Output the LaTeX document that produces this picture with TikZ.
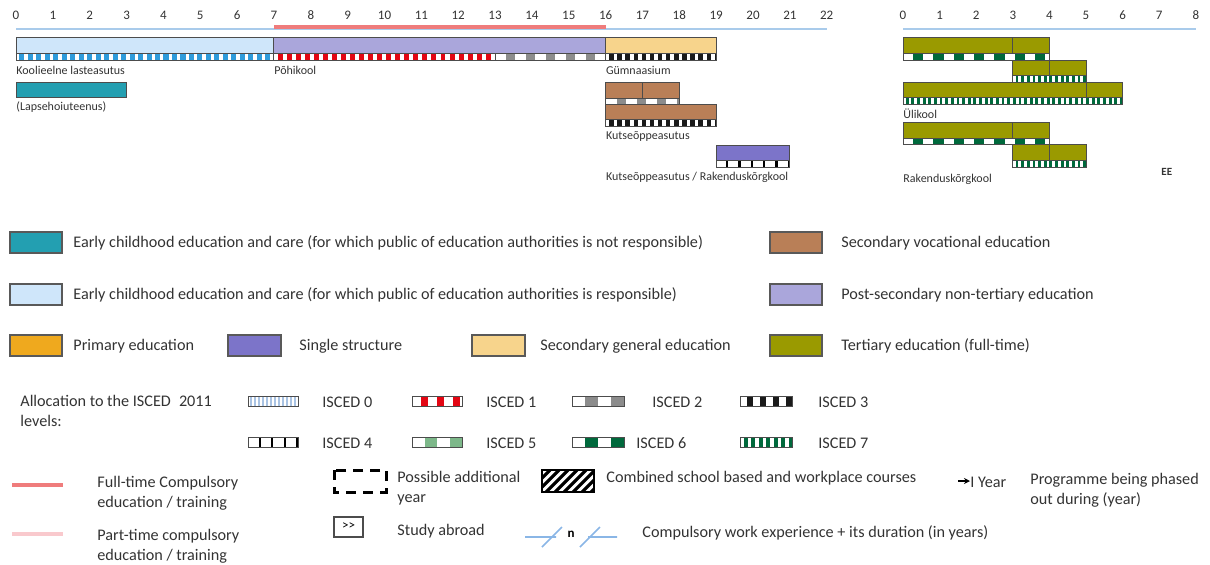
\documentclass[tikz,border=0pt]{standalone}
\usepackage{fontspec}
\setmainfont{Carlito}
\usetikzlibrary{arrows.meta}

\definecolor{ecteal}{HTML}{239FB1}
\definecolor{eclight}{HTML}{CFE6FA}
\definecolor{ecprimary}{HTML}{EFA91E}
\definecolor{ecsingle}{HTML}{7C74C9}
\definecolor{ecsecgen}{HTML}{F7D48C}
\definecolor{ecsecvoc}{HTML}{B97F57}
\definecolor{ecpostsec}{HTML}{AAA6DB}
\definecolor{ectertiary}{HTML}{9A9A00}
\definecolor{ecred}{HTML}{EF7C7C}
\definecolor{ecpink}{HTML}{F9C9CD}
\definecolor{ecaxis}{HTML}{A9CBEB}
\definecolor{ecwork}{HTML}{8AB6E6}
\definecolor{iscedzero}{HTML}{2E9BDB}
\definecolor{iscedzerokey}{HTML}{A9C3E3}
\definecolor{iscedone}{HTML}{E30613}
\definecolor{iscedtwo}{HTML}{8C8C8C}
\definecolor{iscedthree}{HTML}{1A1A1A}
\definecolor{iscedfive}{HTML}{7DB88A}
\definecolor{iscedsix}{HTML}{00693C}
\definecolor{ectext}{HTML}{333333}

\tikzset{
  barline/.style={draw=black!70, line width=0.5pt},
  stripline/.style={draw=black!70, line width=0.5pt},
  swatch/.style={draw=black!65, line width=0.7pt},
  axisnum/.style={font=\fontsize{6.5}{7}\selectfont, text=ectext},
  chartlabel/.style={font=\fontsize{6}{7}\selectfont, text=ectext, anchor=west, inner sep=0pt},
  legendtext/.style={font=\fontsize{8.1}{9}\selectfont, text=ectext, anchor=west, inner sep=0pt},
  keytext/.style={font=\fontsize{8.1}{10}\selectfont, text=ectext, anchor=west, align=left, inner sep=0pt},
}

% strip of ISCED blocks: [fraction] x1 x2 ytop ybottom colour period
\newcommand{\iscedbar}[7][0.5]{%
  \fill[white] (#2,#4) rectangle (#3,#5);
  \begin{scope}
    \clip (#2,#4) rectangle (#3,#5);
    \pgfmathtruncatemacro{\nblk}{(#3-#2)/#7}
    \foreach \k in {0,...,\nblk}
      \fill[#6] ({#2+(\k+1-#1)*#7},#4) rectangle ({#2+(\k+1)*#7},#5);
  \end{scope}
  \draw[stripline] (#2,#4) rectangle (#3,#5);
}

\begin{document}
\begin{tikzpicture}[x=0.5pt, y=-0.5pt]
  \useasboundingbox (0,0) rectangle (1210,564);

  % left chart, x in years
  \begin{scope}[shift={(16,0)}, x=18.425pt]
    \foreach \n in {0,...,22}
      \node[axisnum] (L\n) at (\n,15) {\n};
    \draw[ecaxis, line width=0.8pt] (0,29) -- (22,29);
    \draw[ecred, line width=1.6pt] (7,27) -- (16,27);

    \draw[barline, fill=eclight] (0,37) rectangle (7,53);
    \iscedbar[0.6]{0}{7}{53}{60}{iscedzero}{0.23}
    \node[chartlabel] (koolieelne) at (0,70) {Koolieelne lasteasutus};

    \draw[barline, fill=ecpostsec] (7,37) rectangle (16,53);
    \iscedbar[0.55]{7}{13}{53}{60}{iscedone}{0.245}
    \iscedbar[0.45]{13}{16}{53}{60}{iscedtwo}{0.545}
    \node[chartlabel] (pohikool) at (7,70) {Põhikool};

    \draw[barline, fill=ecsecgen] (16,37) rectangle (19,53);
    \iscedbar[0.55]{16}{19}{53}{60}{iscedthree}{0.22}
    \node[chartlabel] (gymn) at (16,70) {Gümnaasium};

    \draw[barline, fill=ecteal] (0,82) rectangle (3,97);
    \node[chartlabel] (lapsehoid) at (0,107) {(Lapsehoiuteenus)};

    \draw[barline, fill=ecsecvoc] (16,82) rectangle (18,98);
    \draw[barline] (17,82) -- (17,98);
    \iscedbar[0.45]{16}{18}{98}{104}{iscedtwo}{0.545}
    \draw[barline, fill=ecsecvoc] (16,104) rectangle (19,119);
    \iscedbar[0.55]{16}{19}{119}{126}{iscedthree}{0.22}
    \node[chartlabel] (kutse) at (16,136) {Kutseõppeasutus};

    \draw[barline, fill=ecsingle] (19,145) rectangle (21,160);
    \iscedbar[0.18]{19}{21}{160}{167}{black}{0.333}
    \node[chartlabel] (kutserak) at (16,177) {Kutseõppeasutus / Rakenduskõrgkool};
  \end{scope}

  % right chart, x in years
  \begin{scope}[shift={(903,0)}, x=18.3pt]
    \foreach \n in {0,...,8}
      \node[axisnum] (R\n) at (\n,15) {\n};
    \draw[ecaxis, line width=0.8pt] (0,29) -- (8,29);

    \draw[barline, fill=ectertiary] (0,37) rectangle (4,53);
    \draw[barline] (3,37) -- (3,53);
    \iscedbar{0}{4}{53}{60}{iscedsix}{0.555}
    \draw[barline, fill=ectertiary] (3,60) rectangle (5,75);
    \draw[barline] (4,60) -- (4,75);
    \iscedbar{3}{5}{75}{82}{iscedsix}{0.154}
    \draw[barline, fill=ectertiary] (0,82) rectangle (6,97);
    \draw[barline] (5,82) -- (5,97);
    \iscedbar{0}{6}{97}{104}{iscedsix}{0.154}
    \node[chartlabel] (ulikool) at (0,114) {Ülikool};

    \draw[barline, fill=ectertiary] (0,122) rectangle (4,138);
    \draw[barline] (3,122) -- (3,138);
    \iscedbar{0}{4}{138}{144}{iscedsix}{0.555}
    \draw[barline, fill=ectertiary] (3,144) rectangle (5,160);
    \draw[barline] (4,144) -- (4,160);
    \iscedbar{3}{5}{160}{167}{iscedsix}{0.154}
    \node[chartlabel] (rakendus) at (0,179) {Rakenduskõrgkool};
    \node[chartlabel, font=\fontsize{5.5}{6}\selectfont\bfseries] (ee) at (7.05,172) {EE};
  \end{scope}

  % colour key
  \draw[swatch, fill=ecteal] (10,232) rectangle (62,253);
  \node[legendtext] (kteal) at (73,243) {Early childhood education and care (for which public of education authorities is not responsible)};
  \draw[swatch, fill=eclight] (10,284) rectangle (62,305);
  \node[legendtext] (klight) at (73,295) {Early childhood education and care (for which public of education authorities is responsible)};
  \draw[swatch, fill=ecprimary] (10,335) rectangle (62,356);
  \node[legendtext] (kprim) at (73,346) {Primary education};
  \draw[swatch, fill=ecsingle] (228,335) rectangle (281,356);
  \node[legendtext] (ksingle) at (299,346) {Single structure};
  \draw[swatch, fill=ecsecgen] (472,335) rectangle (525,356);
  \node[legendtext] (ksecgen) at (540,346) {Secondary general education};
  \draw[swatch, fill=ecsecvoc] (770,232) rectangle (822,253);
  \node[legendtext] (ksecvoc) at (841,243) {Secondary vocational education};
  \draw[swatch, fill=ecpostsec] (770,284) rectangle (822,305);
  \node[legendtext] (kpostsec) at (841,295) {Post-secondary non-tertiary education};
  \draw[swatch, fill=ectertiary] (770,335) rectangle (822,356);
  \node[legendtext] (ktert) at (841,346) {Tertiary education (full-time)};

  % ISCED key
  \node[keytext] (alloc) at (20,411) {Allocation to the ISCED\enspace 2011\\levels:};
  \iscedbar{248}{298}{396}{406}{iscedzerokey}{4}
  \node[keytext] (i0) at (322,402) {ISCED 0};
  \iscedbar[0.45]{412}{462}{396}{406}{iscedone}{16}
  \node[keytext] (i1) at (486,402) {ISCED 1};
  \iscedbar[0.5]{572}{624}{396}{406}{iscedtwo}{26}
  \node[keytext] (i2) at (652,402) {ISCED 2};
  \iscedbar[0.5]{740}{792}{396}{406}{iscedthree}{13}
  \node[keytext] (i3) at (818,402) {ISCED 3};
  \iscedbar[0.15]{248}{298}{437}{447}{black}{12.5}
  \node[keytext] (i4) at (322,443) {ISCED 4};
  \iscedbar[0.5]{412}{462}{437}{447}{iscedfive}{25}
  \node[keytext] (i5) at (486,443) {ISCED 5};
  \iscedbar[0.5]{572}{624}{437}{447}{iscedsix}{26}
  \node[keytext] (i6) at (636,443) {ISCED 6};
  \iscedbar[0.5]{740}{792}{437}{447}{iscedsix}{7.5}
  \node[keytext] (i7) at (818,443) {ISCED 7};

  % other symbols
  \draw[ecred, line width=2pt] (12,485) -- (63,485);
  \node[keytext] (fulltime) at (97,493) {Full-time Compulsory\\education / training};
  \draw[ecpink, line width=2pt] (12,534) -- (63,534);
  \node[keytext] (parttime) at (97,546) {Part-time compulsory\\education / training};

  \draw[line width=1.5pt, dash pattern=on 5pt off 3.5pt] (334,470) rectangle (386,492);
  \node[keytext] (addyear) at (397,488) {Possible additional\\year};
  \draw[black!70, line width=0.6pt] (334,517) rectangle (363,537);
  \node[font=\fontsize{6.5}{7}\selectfont, inner sep=0pt] (abroadsym) at (348.5,526) {{>}{>}};
  \node[keytext] (abroad) at (397,531) {Study abroad};

  \begin{scope}
    \clip (542,470) rectangle (594,492);
    \foreach \s in {0,9,...,90}
      \draw[line width=1.6pt] ({532+\s-22},492) -- ({532+\s},470);
  \end{scope}
  \draw[line width=0.8pt] (542,470) rectangle (594,492);
  \node[keytext] (combined) at (606,478) {Combined school based and workplace courses};

  \draw[line width=0.8pt, -{Stealth[length=3pt,width=3pt]}] (958,481) -- (970,481);
  \node[keytext] (yearsym) at (970,482) {I Year};
  \node[keytext] (phased) at (1030,490) {Programme being phased\\out during (year)};

  \draw[ecwork, line width=0.8pt] (525,537) -- (556,537) (542,547) -- (562,527);
  \node[font=\fontsize{6.5}{7}\selectfont\bfseries, inner sep=0pt] (nsym) at (571,534) {n};
  \draw[ecwork, line width=0.8pt] (580,547) -- (600,527) (588,537) -- (617,537);
  \node[keytext] (workexp) at (642,533) {Compulsory work experience + its duration (in years)};
\end{tikzpicture}
\end{document}
